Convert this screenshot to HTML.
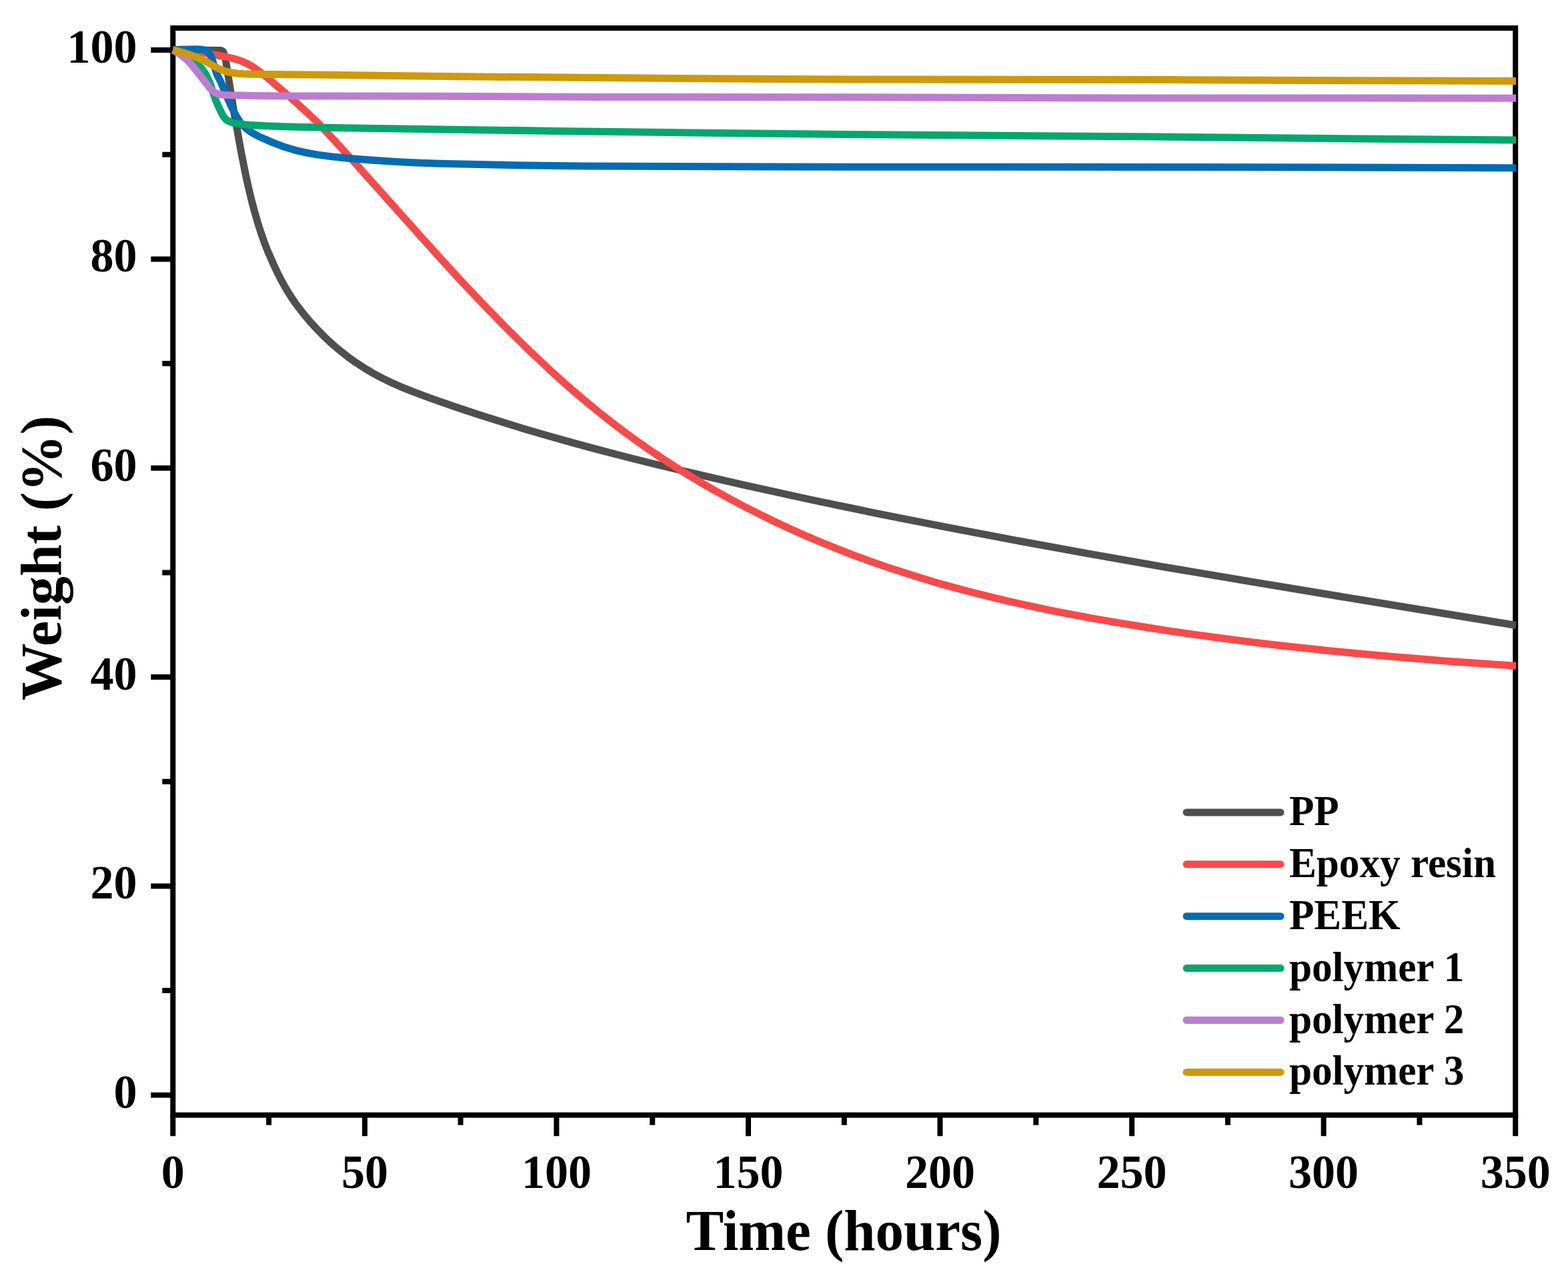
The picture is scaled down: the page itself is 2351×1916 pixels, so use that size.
<!DOCTYPE html><html><head><meta charset="utf-8"><title>Weight vs Time</title><style>html,body{margin:0;padding:0;background:#fff;overflow:hidden;}svg{display:block;}text{font-family:"Liberation Serif","Times New Roman",serif;font-weight:bold;fill:#000;}</style></head><body>
<svg width="2351" height="1916" viewBox="0 0 2351 1916">
<rect x="0" y="0" width="2351" height="1916" fill="#fff"/>
<g>
<rect x="259.3" y="42.1" width="2012.9" height="1629.6" fill="none" stroke="#000" stroke-width="8"/>
<path d="M259.3,1641.8H226.3M259.3,1485.1H243.3M259.3,1328.4H226.3M259.3,1171.8H243.3M259.3,1015.1H226.3M259.3,858.4H243.3M259.3,701.7H226.3M259.3,545.0H243.3M259.3,388.4H226.3M259.3,231.7H243.3M259.3,75.0H226.3M259.3,1671.7V1703.2M403.1,1671.7V1686.7M546.9,1671.7V1703.2M690.6,1671.7V1686.7M834.4,1671.7V1703.2M978.2,1671.7V1686.7M1122.0,1671.7V1703.2M1265.8,1671.7V1686.7M1409.5,1671.7V1703.2M1553.3,1671.7V1686.7M1697.1,1671.7V1703.2M1840.9,1671.7V1686.7M1984.6,1671.7V1703.2M2128.4,1671.7V1686.7M2272.2,1671.7V1703.2" stroke="#000" stroke-width="8" fill="none"/>
<path d="M259.3,75.0 L329.8,75.5 L332.3,76.0 L334.1,77.0 L334.6,77.6 L335.6,79.7 L337.1,84.2 L338.3,90.0 L351.1,169.7 L361.8,229.0 L368.8,264.3 L373.1,283.4 L377.1,300.0 L381.6,317.0 L386.1,332.6 L391.1,348.4 L396.8,364.8 L401.3,376.2 L410.6,397.3 L415.1,406.9 L420.8,418.3 L428.3,431.8 L436.3,444.8 L444.3,456.5 L453.8,468.9 L464.1,481.2 L475.1,493.3 L486.8,505.2 L498.3,515.9 L510.3,526.1 L521.3,534.7 L533.0,543.2 L545.3,551.2 L558.3,559.0 L572.0,566.4 L586.0,573.2 L600.8,579.8 L620.3,587.7 L645.8,597.1 L679.8,609.0 L718.0,621.8 L752.3,632.6 L786.8,643.2 L821.3,653.3 L859.0,663.9 L896.0,673.9 L935.8,684.2 L972.5,693.5 L1016.0,704.0 L1065.5,715.7 L1114.3,726.8 L1215.0,749.0 L1311.5,769.1 L1412.8,789.2 L1517.5,809.2 L1633.8,830.3 L1744.5,849.8 L1875.0,871.9 L2006.8,893.8 L2273.0,937.5" fill="none" stroke="#4f4f4f" stroke-width="11" stroke-linejoin="round" stroke-linecap="butt"/>
<path d="M259.3,75.0 L275.6,75.5 L286.1,76.1 L291.1,76.6 L305.8,79.0 L337.3,85.0 L348.8,87.5 L355.1,89.2 L360.8,91.1 L365.8,93.2 L371.1,95.6 L375.8,98.2 L382.1,102.1 L391.8,109.2 L399.3,115.2 L436.6,147.2 L462.8,170.9 L475.8,183.2 L501.8,211.0 L533.5,245.7 L631.8,355.6 L665.3,392.7 L693.3,423.2 L719.8,451.3 L758.3,490.9 L794.3,526.3 L827.8,557.7 L844.3,572.6 L861.3,587.5 L879.3,602.8 L898.0,618.1 L915.5,631.9 L934.5,646.4 L954.3,660.8 L972.0,673.2 L991.8,686.6 L1012.0,699.7 L1031.8,712.0 L1051.8,724.0 L1072.3,735.8 L1093.5,747.5 L1115.3,759.0 L1138.3,770.7 L1160.8,781.7 L1181.8,791.5 L1205.3,802.0 L1229.3,812.2 L1253.8,822.2 L1278.5,831.8 L1306.0,841.9 L1329.0,849.9 L1354.0,858.1 L1380.0,866.3 L1405.5,873.9 L1432.5,881.4 L1458.5,888.3 L1488.0,895.7 L1517.0,902.5 L1547.3,909.2 L1577.8,915.6 L1609.0,921.7 L1642.5,927.8 L1680.8,934.4 L1715.3,940.0 L1754.5,946.1 L1789.3,951.1 L1831.0,956.8 L1872.5,962.1 L1915.0,967.2 L1993.5,975.7 L2036.0,979.8 L2083.1,984.1 L2173.3,991.4 L2273.0,998.3" fill="none" stroke="#f94a4a" stroke-width="11" stroke-linejoin="round" stroke-linecap="butt"/>
<path d="M259.3,75.0 L271.6,74.2 L282.8,73.9 L293.8,73.8 L303.1,74.2 L305.3,74.6 L308.6,75.7 L310.8,77.0 L312.6,78.5 L314.8,81.7 L317.6,87.3 L324.1,108.3 L325.6,112.3 L331.6,124.1 L337.8,139.4 L345.8,157.5 L354.3,174.3 L359.3,182.2 L361.8,185.5 L364.1,188.1 L370.1,193.4 L373.6,196.1 L378.3,199.2 L383.8,202.3 L390.8,205.8 L408.1,213.4 L427.3,220.6 L441.1,224.8 L458.6,228.9 L476.8,232.1 L499.8,235.1 L526.5,237.7 L559.8,240.3 L598.8,242.7 L624.0,244.0 L659.8,245.3 L772.8,247.7 L877.5,249.1 L1148.0,250.1 L1775.8,250.4 L2273.0,251.7" fill="none" stroke="#026cb4" stroke-width="11" stroke-linejoin="round" stroke-linecap="butt"/>
<path d="M259.3,75.0 L264.6,76.1 L270.6,78.2 L277.1,81.0 L281.8,83.8 L287.3,87.8 L292.6,92.2 L298.1,97.9 L304.3,105.1 L306.8,108.6 L309.3,112.8 L313.8,122.3 L316.1,128.2 L323.3,149.9 L326.8,158.3 L333.6,172.2 L335.6,175.3 L338.3,178.6 L340.3,180.2 L343.8,182.1 L347.3,183.5 L351.6,184.7 L359.3,186.1 L375.3,187.5 L398.3,188.7 L432.3,189.9 L512.3,191.7 L852.0,196.7 L1003.0,198.6 L1267.0,201.4 L1732.5,205.0 L2124.8,208.8 L2273.0,210.0" fill="none" stroke="#02a86d" stroke-width="11" stroke-linejoin="round" stroke-linecap="butt"/>
<path d="M259.3,75.0 L265.8,78.6 L272.1,82.9 L277.3,87.2 L283.3,92.8 L288.1,98.2 L314.8,132.1 L317.6,135.1 L321.1,138.0 L324.6,140.1 L330.3,141.7 L334.8,142.3 L345.6,142.8 L381.1,143.6 L421.3,144.0 L671.5,144.3 L901.8,145.4 L1284.5,145.8 L1691.3,146.9 L2273.0,147.2" fill="none" stroke="#bd7cd4" stroke-width="11" stroke-linejoin="round" stroke-linecap="butt"/>
<path d="M259.3,75.0 L268.6,77.2 L277.6,79.8 L285.8,82.4 L294.1,85.6 L307.1,91.4 L326.6,102.3 L333.1,105.1 L338.8,107.1 L346.8,108.9 L356.3,110.2 L364.1,110.7 L377.6,111.2 L487.3,112.2 L626.5,114.0 L741.5,115.2 L1163.0,118.6 L1304.3,119.0 L1758.3,119.6 L2131.3,121.1 L2273.0,121.5" fill="none" stroke="#cf9a08" stroke-width="11" stroke-linejoin="round" stroke-linecap="butt"/>
<text font-size="70" text-anchor="end" transform="translate(205.5,1660.8) scale(1,1.04)">0</text>
<text font-size="70" text-anchor="end" transform="translate(205.5,1347.4) scale(1,1.04)">20</text>
<text font-size="70" text-anchor="end" transform="translate(205.5,1034.1) scale(1,1.04)">40</text>
<text font-size="70" text-anchor="end" transform="translate(205.5,720.7) scale(1,1.04)">60</text>
<text font-size="70" text-anchor="end" transform="translate(205.5,407.4) scale(1,1.04)">80</text>
<text font-size="70" text-anchor="end" transform="translate(205.5,94.0) scale(1,1.04)">100</text>
<text font-size="70" text-anchor="middle" transform="translate(259.3,1781.0) scale(1,1.04)">0</text>
<text font-size="70" text-anchor="middle" transform="translate(546.9,1781.0) scale(1,1.04)">50</text>
<text font-size="70" text-anchor="middle" transform="translate(834.4,1781.0) scale(1,1.04)">100</text>
<text font-size="70" text-anchor="middle" transform="translate(1122.0,1781.0) scale(1,1.04)">150</text>
<text font-size="70" text-anchor="middle" transform="translate(1409.5,1781.0) scale(1,1.04)">200</text>
<text font-size="70" text-anchor="middle" transform="translate(1697.1,1781.0) scale(1,1.04)">250</text>
<text font-size="70" text-anchor="middle" transform="translate(1984.6,1781.0) scale(1,1.04)">300</text>
<text font-size="70" text-anchor="middle" transform="translate(2272.2,1781.0) scale(1,1.04)">350</text>
<text font-size="85" text-anchor="middle" transform="translate(1265.0,1874.0) scale(1,1.03)">Time (hours)</text>
<text font-size="85" text-anchor="middle" transform="translate(91.0,836.6) rotate(-90) scale(1.011,1.03)">Weight (%)</text>
<line x1="1779.0" y1="1217.9" x2="1920.0" y2="1217.9" stroke="#4f4f4f" stroke-width="11" stroke-linecap="round"/>
<text font-size="61.2" transform="translate(1933.0,1236.9) scale(1,1.04)">PP</text>
<line x1="1779.0" y1="1295.8" x2="1920.0" y2="1295.8" stroke="#f94a4a" stroke-width="11" stroke-linecap="round"/>
<text font-size="61.2" transform="translate(1933.0,1314.8) scale(1,1.04)">Epoxy resin</text>
<line x1="1779.0" y1="1373.7" x2="1920.0" y2="1373.7" stroke="#026cb4" stroke-width="11" stroke-linecap="round"/>
<text font-size="61.2" transform="translate(1933.0,1392.7) scale(1,1.04)">PEEK</text>
<line x1="1779.0" y1="1451.6" x2="1920.0" y2="1451.6" stroke="#02a86d" stroke-width="11" stroke-linecap="round"/>
<text font-size="61.2" transform="translate(1933.0,1470.6) scale(1,1.04)">polymer 1</text>
<line x1="1779.0" y1="1529.5" x2="1920.0" y2="1529.5" stroke="#bd7cd4" stroke-width="11" stroke-linecap="round"/>
<text font-size="61.2" transform="translate(1933.0,1548.5) scale(1,1.04)">polymer 2</text>
<line x1="1779.0" y1="1607.4" x2="1920.0" y2="1607.4" stroke="#cf9a08" stroke-width="11" stroke-linecap="round"/>
<text font-size="61.2" transform="translate(1933.0,1626.4) scale(1,1.04)">polymer 3</text>
</g></svg></body></html>
